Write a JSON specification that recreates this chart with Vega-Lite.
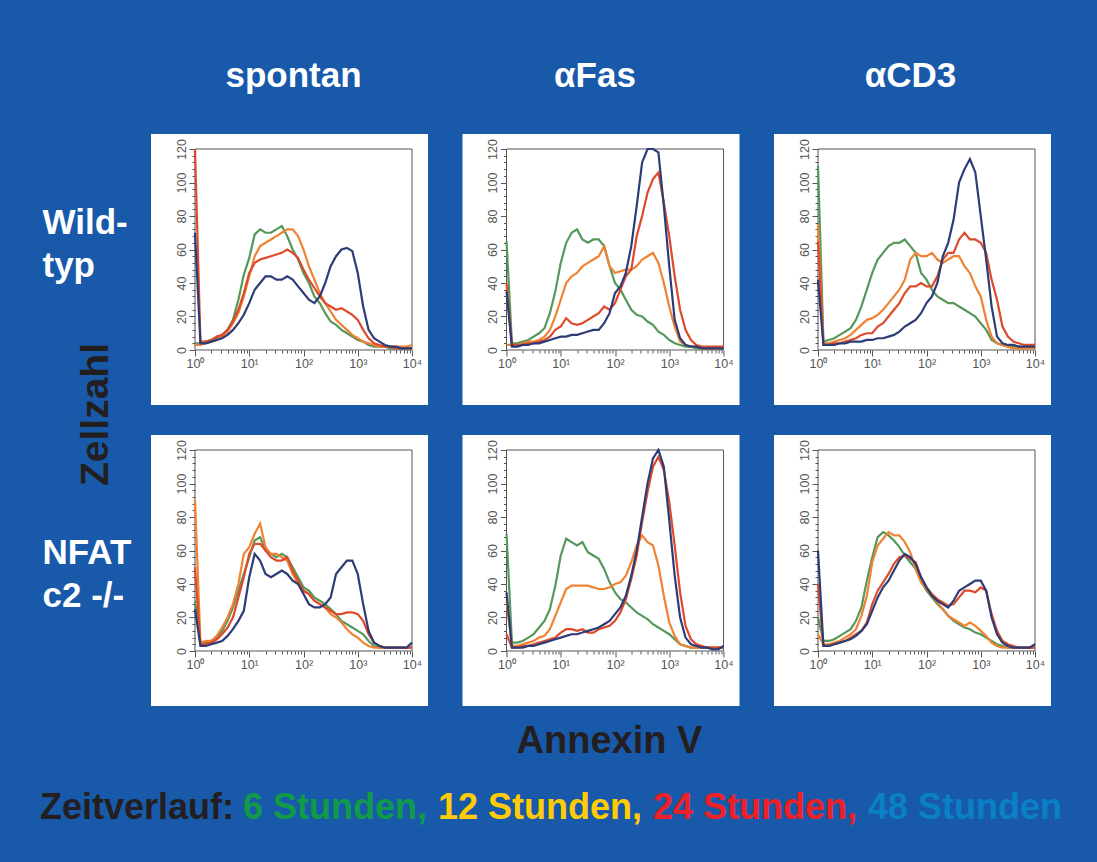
{
"$schema":"https://vega.github.io/schema/vega-lite/v6.json",
"background":"#1859aa",
"padding":{"left":40,"top":59,"right":42,"bottom":40},
"bounds":"flush",
"columns":3,
"spacing":{"row":30,"column":34.5},
"config":{
 "font":"Liberation Sans",
 "view":{"fill":"white","stroke":null},
 "axis":{"domain":false,"grid":false,"labelFont":"Liberation Sans","labelFontSize":12.5,"labelColor":"#555555","tickColor":"#555555","tickWidth":1,"labelOverlap":false,"labelFlush":false,"labelBound":false,"titleFont":"Liberation Sans","titleFontWeight":"bold"},
 "title":{"font":"Liberation Sans","fontSize":35,"fontWeight":"bold","color":"white","anchor":"middle","frame":"group","offset":40}
},
"datasets":{"h":[
{"p":"A","x":1,"h6":4,"h12":3,"h24":120,"h48":70},{"p":"A","x":1.259,"h6":4,"h12":3,"h24":5,"h48":4},{"p":"A","x":1.585,"h6":5,"h12":4,"h24":5,"h48":4},{"p":"A","x":1.995,"h6":6,"h12":5,"h24":6,"h48":5},{"p":"A","x":2.512,"h6":7,"h12":6,"h24":8,"h48":6},{"p":"A","x":3.162,"h6":9,"h12":8,"h24":9,"h48":7},{"p":"A","x":3.981,"h6":12,"h12":11,"h24":12,"h48":9},{"p":"A","x":5.012,"h6":18,"h12":16,"h24":17,"h48":12},{"p":"A","x":6.31,"h6":30,"h12":22,"h24":24,"h48":16},{"p":"A","x":7.943,"h6":45,"h12":32,"h24":34,"h48":21},
{"p":"A","x":10,"h6":55,"h12":44,"h24":46,"h48":28},{"p":"A","x":12.59,"h6":69,"h12":56,"h24":52,"h48":36},{"p":"A","x":15.85,"h6":72,"h12":62,"h24":54,"h48":40},{"p":"A","x":19.95,"h6":70,"h12":64,"h24":55,"h48":44},{"p":"A","x":25.12,"h6":70,"h12":66,"h24":56,"h48":44},{"p":"A","x":31.62,"h6":72,"h12":68,"h24":57,"h48":42},{"p":"A","x":39.81,"h6":74,"h12":70,"h24":58,"h48":42},{"p":"A","x":50.12,"h6":68,"h12":72,"h24":60,"h48":44},{"p":"A","x":63.1,"h6":60,"h12":72,"h24":58,"h48":42},{"p":"A","x":79.43,"h6":54,"h12":68,"h24":55,"h48":38},
{"p":"A","x":100,"h6":46,"h12":60,"h24":48,"h48":34},{"p":"A","x":125.9,"h6":40,"h12":50,"h24":42,"h48":30},{"p":"A","x":158.5,"h6":32,"h12":42,"h24":37,"h48":28},{"p":"A","x":199.5,"h6":28,"h12":34,"h24":32,"h48":32},{"p":"A","x":251.2,"h6":22,"h12":28,"h24":28,"h48":40},{"p":"A","x":316.2,"h6":17,"h12":23,"h24":26,"h48":50},{"p":"A","x":398.1,"h6":15,"h12":18,"h24":24,"h48":56},{"p":"A","x":501.2,"h6":12,"h12":15,"h24":25,"h48":60},{"p":"A","x":631,"h6":10,"h12":12,"h24":23,"h48":61},{"p":"A","x":794.3,"h6":8,"h12":9,"h24":21,"h48":59},
{"p":"A","x":1000,"h6":6,"h12":7,"h24":18,"h48":46},{"p":"A","x":1259,"h6":5,"h12":5,"h24":12,"h48":26},{"p":"A","x":1585,"h6":3,"h12":4,"h24":7,"h48":12},{"p":"A","x":1995,"h6":2,"h12":3,"h24":4,"h48":7},{"p":"A","x":2512,"h6":2,"h12":2,"h24":3,"h48":5},{"p":"A","x":3162,"h6":2,"h12":2,"h24":2,"h48":3},{"p":"A","x":3981,"h6":1,"h12":2,"h24":2,"h48":2},{"p":"A","x":5012,"h6":1,"h12":2,"h24":1,"h48":2},{"p":"A","x":6310,"h6":1,"h12":2,"h24":1,"h48":1},{"p":"A","x":7943,"h6":1,"h12":2,"h24":1,"h48":1},{"p":"A","x":10000,"h6":1,"h12":3,"h24":1,"h48":1},
{"p":"B","x":1,"h6":65,"h12":3,"h24":40,"h48":35},{"p":"B","x":1.259,"h6":4,"h12":3,"h24":3,"h48":2},{"p":"B","x":1.585,"h6":4,"h12":3,"h24":3,"h48":2},{"p":"B","x":1.995,"h6":5,"h12":4,"h24":3,"h48":3},{"p":"B","x":2.512,"h6":6,"h12":5,"h24":4,"h48":3},{"p":"B","x":3.162,"h6":8,"h12":5,"h24":4,"h48":4},{"p":"B","x":3.981,"h6":10,"h12":6,"h24":5,"h48":4},{"p":"B","x":5.012,"h6":13,"h12":8,"h24":6,"h48":5},{"p":"B","x":6.31,"h6":22,"h12":12,"h24":8,"h48":6},{"p":"B","x":7.943,"h6":35,"h12":20,"h24":12,"h48":7},
{"p":"B","x":10,"h6":52,"h12":30,"h24":14,"h48":8},{"p":"B","x":12.59,"h6":64,"h12":40,"h24":19,"h48":8},{"p":"B","x":15.85,"h6":70,"h12":44,"h24":16,"h48":9},{"p":"B","x":19.95,"h6":72,"h12":46,"h24":15,"h48":9},{"p":"B","x":25.12,"h6":66,"h12":50,"h24":16,"h48":10},{"p":"B","x":31.62,"h6":64,"h12":52,"h24":18,"h48":11},{"p":"B","x":39.81,"h6":66,"h12":54,"h24":20,"h48":12},{"p":"B","x":50.12,"h6":66,"h12":56,"h24":22,"h48":12},{"p":"B","x":63.1,"h6":62,"h12":62,"h24":26,"h48":16},{"p":"B","x":79.43,"h6":50,"h12":50,"h24":24,"h48":22},
{"p":"B","x":100,"h6":40,"h12":46,"h24":28,"h48":34},{"p":"B","x":125.9,"h6":36,"h12":47,"h24":36,"h48":38},{"p":"B","x":158.5,"h6":30,"h12":48,"h24":44,"h48":46},{"p":"B","x":199.5,"h6":24,"h12":48,"h24":48,"h48":62},{"p":"B","x":251.2,"h6":21,"h12":50,"h24":68,"h48":86},{"p":"B","x":316.2,"h6":20,"h12":54,"h24":80,"h48":112},{"p":"B","x":398.1,"h6":17,"h12":56,"h24":94,"h48":120},{"p":"B","x":501.2,"h6":15,"h12":58,"h24":102,"h48":120},{"p":"B","x":631,"h6":11,"h12":52,"h24":106,"h48":118},{"p":"B","x":794.3,"h6":9,"h12":40,"h24":88,"h48":86},
{"p":"B","x":1000,"h6":6,"h12":26,"h24":68,"h48":50},{"p":"B","x":1259,"h6":4,"h12":14,"h24":44,"h48":18},{"p":"B","x":1585,"h6":3,"h12":5,"h24":24,"h48":7},{"p":"B","x":1995,"h6":2,"h12":3,"h24":12,"h48":3},{"p":"B","x":2512,"h6":2,"h12":2,"h24":6,"h48":2},{"p":"B","x":3162,"h6":1,"h12":2,"h24":3,"h48":2},{"p":"B","x":3981,"h6":1,"h12":1,"h24":2,"h48":1},{"p":"B","x":5012,"h6":1,"h12":1,"h24":2,"h48":1},{"p":"B","x":6310,"h6":1,"h12":1,"h24":2,"h48":1},{"p":"B","x":7943,"h6":1,"h12":1,"h24":2,"h48":1},{"p":"B","x":10000,"h6":1,"h12":2,"h24":2,"h48":1},
{"p":"C","x":1,"h6":110,"h12":75,"h24":65,"h48":42},{"p":"C","x":1.259,"h6":5,"h12":4,"h24":3,"h48":3},{"p":"C","x":1.585,"h6":6,"h12":4,"h24":3,"h48":3},{"p":"C","x":1.995,"h6":7,"h12":5,"h24":4,"h48":3},{"p":"C","x":2.512,"h6":9,"h12":6,"h24":4,"h48":4},{"p":"C","x":3.162,"h6":11,"h12":7,"h24":5,"h48":4},{"p":"C","x":3.981,"h6":13,"h12":9,"h24":6,"h48":5},{"p":"C","x":5.012,"h6":18,"h12":12,"h24":7,"h48":5},{"p":"C","x":6.31,"h6":26,"h12":15,"h24":9,"h48":5},{"p":"C","x":7.943,"h6":36,"h12":18,"h24":10,"h48":6},
{"p":"C","x":10,"h6":46,"h12":19,"h24":10,"h48":6},{"p":"C","x":12.59,"h6":54,"h12":21,"h24":14,"h48":7},{"p":"C","x":15.85,"h6":58,"h12":24,"h24":16,"h48":7},{"p":"C","x":19.95,"h6":62,"h12":28,"h24":20,"h48":8},{"p":"C","x":25.12,"h6":64,"h12":32,"h24":24,"h48":9},{"p":"C","x":31.62,"h6":64,"h12":36,"h24":28,"h48":11},{"p":"C","x":39.81,"h6":66,"h12":42,"h24":34,"h48":14},{"p":"C","x":50.12,"h6":62,"h12":54,"h24":38,"h48":16},{"p":"C","x":63.1,"h6":58,"h12":58,"h24":38,"h48":18},{"p":"C","x":79.43,"h6":46,"h12":56,"h24":40,"h48":22},
{"p":"C","x":100,"h6":42,"h12":56,"h24":38,"h48":28},{"p":"C","x":125.9,"h6":36,"h12":58,"h24":38,"h48":32},{"p":"C","x":158.5,"h6":32,"h12":54,"h24":44,"h48":40},{"p":"C","x":199.5,"h6":30,"h12":52,"h24":54,"h48":56},{"p":"C","x":251.2,"h6":28,"h12":54,"h24":58,"h48":64},{"p":"C","x":316.2,"h6":28,"h12":56,"h24":58,"h48":78},{"p":"C","x":398.1,"h6":26,"h12":56,"h24":66,"h48":100},{"p":"C","x":501.2,"h6":24,"h12":50,"h24":70,"h48":108},{"p":"C","x":631,"h6":22,"h12":46,"h24":66,"h48":114},{"p":"C","x":794.3,"h6":20,"h12":38,"h24":66,"h48":106},
{"p":"C","x":1000,"h6":16,"h12":32,"h24":64,"h48":80},{"p":"C","x":1259,"h6":12,"h12":18,"h24":58,"h48":54},{"p":"C","x":1585,"h6":6,"h12":8,"h24":42,"h48":26},{"p":"C","x":1995,"h6":4,"h12":4,"h24":30,"h48":8},{"p":"C","x":2512,"h6":3,"h12":3,"h24":14,"h48":4},{"p":"C","x":3162,"h6":2,"h12":2,"h24":8,"h48":3},{"p":"C","x":3981,"h6":2,"h12":1,"h24":5,"h48":3},{"p":"C","x":5012,"h6":2,"h12":1,"h24":4,"h48":2},{"p":"C","x":6310,"h6":2,"h12":1,"h24":3,"h48":2},{"p":"C","x":7943,"h6":2,"h12":1,"h24":3,"h48":2},{"p":"C","x":10000,"h6":2,"h12":1,"h24":3,"h48":2},
{"p":"D","x":1,"h6":30,"h12":90,"h24":50,"h48":25},{"p":"D","x":1.259,"h6":5,"h12":5,"h24":4,"h48":3},{"p":"D","x":1.585,"h6":5,"h12":6,"h24":4,"h48":3},{"p":"D","x":1.995,"h6":6,"h12":6,"h24":5,"h48":4},{"p":"D","x":2.512,"h6":8,"h12":9,"h24":7,"h48":5},{"p":"D","x":3.162,"h6":12,"h12":14,"h24":10,"h48":6},{"p":"D","x":3.981,"h6":18,"h12":20,"h24":14,"h48":9},{"p":"D","x":5.012,"h6":26,"h12":28,"h24":20,"h48":13},{"p":"D","x":6.31,"h6":36,"h12":40,"h24":32,"h48":18},{"p":"D","x":7.943,"h6":46,"h12":58,"h24":44,"h48":24},
{"p":"D","x":10,"h6":56,"h12":62,"h24":58,"h48":44},{"p":"D","x":12.59,"h6":66,"h12":70,"h24":64,"h48":58},{"p":"D","x":15.85,"h6":68,"h12":76,"h24":64,"h48":54},{"p":"D","x":19.95,"h6":60,"h12":62,"h24":60,"h48":46},{"p":"D","x":25.12,"h6":58,"h12":58,"h24":56,"h48":44},{"p":"D","x":31.62,"h6":56,"h12":58,"h24":54,"h48":46},{"p":"D","x":39.81,"h6":58,"h12":56,"h24":54,"h48":48},{"p":"D","x":50.12,"h6":56,"h12":54,"h24":56,"h48":46},{"p":"D","x":63.1,"h6":50,"h12":46,"h24":48,"h48":42},{"p":"D","x":79.43,"h6":44,"h12":40,"h24":42,"h48":40},
{"p":"D","x":100,"h6":38,"h12":36,"h24":36,"h48":34},{"p":"D","x":125.9,"h6":36,"h12":34,"h24":34,"h48":28},{"p":"D","x":158.5,"h6":32,"h12":30,"h24":30,"h48":26},{"p":"D","x":199.5,"h6":30,"h12":28,"h24":28,"h48":26},{"p":"D","x":251.2,"h6":28,"h12":26,"h24":26,"h48":28},{"p":"D","x":316.2,"h6":25,"h12":22,"h24":24,"h48":32},{"p":"D","x":398.1,"h6":22,"h12":20,"h24":22,"h48":46},{"p":"D","x":501.2,"h6":18,"h12":17,"h24":22,"h48":50},{"p":"D","x":631,"h6":16,"h12":13,"h24":23,"h48":54},{"p":"D","x":794.3,"h6":14,"h12":10,"h24":23,"h48":54},
{"p":"D","x":1000,"h6":12,"h12":8,"h24":22,"h48":46},{"p":"D","x":1259,"h6":10,"h12":5,"h24":18,"h48":28},{"p":"D","x":1585,"h6":6,"h12":3,"h24":10,"h48":12},{"p":"D","x":1995,"h6":3,"h12":2,"h24":5,"h48":5},{"p":"D","x":2512,"h6":2,"h12":2,"h24":3,"h48":3},{"p":"D","x":3162,"h6":2,"h12":2,"h24":2,"h48":2},{"p":"D","x":3981,"h6":2,"h12":2,"h24":2,"h48":2},{"p":"D","x":5012,"h6":2,"h12":2,"h24":2,"h48":2},{"p":"D","x":6310,"h6":2,"h12":2,"h24":2,"h48":2},{"p":"D","x":7943,"h6":2,"h12":2,"h24":2,"h48":2},{"p":"D","x":10000,"h6":2,"h12":2,"h24":2,"h48":5},
{"p":"E","x":1,"h6":70,"h12":30,"h24":10,"h48":35},{"p":"E","x":1.259,"h6":5,"h12":3,"h24":2,"h48":2},{"p":"E","x":1.585,"h6":5,"h12":3,"h24":2,"h48":2},{"p":"E","x":1.995,"h6":6,"h12":4,"h24":3,"h48":2},{"p":"E","x":2.512,"h6":8,"h12":5,"h24":3,"h48":3},{"p":"E","x":3.162,"h6":10,"h12":6,"h24":4,"h48":3},{"p":"E","x":3.981,"h6":14,"h12":8,"h24":5,"h48":4},{"p":"E","x":5.012,"h6":18,"h12":9,"h24":6,"h48":5},{"p":"E","x":6.31,"h6":25,"h12":13,"h24":7,"h48":6},{"p":"E","x":7.943,"h6":39,"h12":21,"h24":8,"h48":7},
{"p":"E","x":10,"h6":57,"h12":29,"h24":11,"h48":8},{"p":"E","x":12.59,"h6":67,"h12":37,"h24":13,"h48":9},{"p":"E","x":15.85,"h6":65,"h12":39,"h24":13,"h48":10},{"p":"E","x":19.95,"h6":63,"h12":39,"h24":12,"h48":10},{"p":"E","x":25.12,"h6":65,"h12":39,"h24":13,"h48":11},{"p":"E","x":31.62,"h6":59,"h12":39,"h24":11,"h48":12},{"p":"E","x":39.81,"h6":57,"h12":38,"h24":11,"h48":13},{"p":"E","x":50.12,"h6":55,"h12":37,"h24":13,"h48":14},{"p":"E","x":63.1,"h6":49,"h12":37,"h24":14,"h48":16},{"p":"E","x":79.43,"h6":41,"h12":38,"h24":15,"h48":18},
{"p":"E","x":100,"h6":35,"h12":40,"h24":18,"h48":22},{"p":"E","x":125.9,"h6":31,"h12":41,"h24":23,"h48":26},{"p":"E","x":158.5,"h6":29,"h12":45,"h24":31,"h48":33},{"p":"E","x":199.5,"h6":26,"h12":53,"h24":43,"h48":45},{"p":"E","x":251.2,"h6":23,"h12":63,"h24":57,"h48":60},{"p":"E","x":316.2,"h6":21,"h12":69,"h24":77,"h48":80},{"p":"E","x":398.1,"h6":19,"h12":65,"h24":95,"h48":100},{"p":"E","x":501.2,"h6":16,"h12":63,"h24":110,"h48":115},{"p":"E","x":631,"h6":14,"h12":51,"h24":116,"h48":120},{"p":"E","x":794.3,"h6":12,"h12":33,"h24":108,"h48":110},
{"p":"E","x":1000,"h6":10,"h12":17,"h24":89,"h48":78},{"p":"E","x":1259,"h6":7,"h12":9,"h24":63,"h48":45},{"p":"E","x":1585,"h6":4,"h12":4,"h24":35,"h48":20},{"p":"E","x":1995,"h6":3,"h12":3,"h24":15,"h48":8},{"p":"E","x":2512,"h6":2,"h12":2,"h24":7,"h48":4},{"p":"E","x":3162,"h6":2,"h12":2,"h24":4,"h48":3},{"p":"E","x":3981,"h6":2,"h12":2,"h24":3,"h48":2},{"p":"E","x":5012,"h6":2,"h12":2,"h24":2,"h48":2},{"p":"E","x":6310,"h6":2,"h12":2,"h24":2,"h48":1},{"p":"E","x":7943,"h6":2,"h12":2,"h24":2,"h48":1},{"p":"E","x":10000,"h6":2,"h12":2,"h24":2,"h48":3},
{"p":"F","x":1,"h6":20,"h12":10,"h24":40,"h48":60},{"p":"F","x":1.259,"h6":6,"h12":4,"h24":3,"h48":3},{"p":"F","x":1.585,"h6":6,"h12":4,"h24":3,"h48":3},{"p":"F","x":1.995,"h6":7,"h12":5,"h24":4,"h48":4},{"p":"F","x":2.512,"h6":9,"h12":6,"h24":5,"h48":5},{"p":"F","x":3.162,"h6":11,"h12":8,"h24":6,"h48":6},{"p":"F","x":3.981,"h6":13,"h12":10,"h24":8,"h48":7},{"p":"F","x":5.012,"h6":18,"h12":13,"h24":10,"h48":9},{"p":"F","x":6.31,"h6":26,"h12":21,"h24":12,"h48":12},{"p":"F","x":7.943,"h6":42,"h12":33,"h24":17,"h48":16},
{"p":"F","x":10,"h6":56,"h12":53,"h24":28,"h48":24},{"p":"F","x":12.59,"h6":68,"h12":63,"h24":36,"h48":32},{"p":"F","x":15.85,"h6":71,"h12":67,"h24":41,"h48":38},{"p":"F","x":19.95,"h6":69,"h12":71,"h24":46,"h48":42},{"p":"F","x":25.12,"h6":66,"h12":69,"h24":52,"h48":48},{"p":"F","x":31.62,"h6":62,"h12":69,"h24":56,"h48":54},{"p":"F","x":39.81,"h6":57,"h12":65,"h24":57,"h48":58},{"p":"F","x":50.12,"h6":53,"h12":59,"h24":55,"h48":56},{"p":"F","x":63.1,"h6":49,"h12":49,"h24":53,"h48":52},{"p":"F","x":79.43,"h6":42,"h12":41,"h24":44,"h48":44},
{"p":"F","x":100,"h6":36,"h12":37,"h24":38,"h48":38},{"p":"F","x":125.9,"h6":32,"h12":33,"h24":34,"h48":33},{"p":"F","x":158.5,"h6":28,"h12":29,"h24":31,"h48":30},{"p":"F","x":199.5,"h6":25,"h12":25,"h24":29,"h48":28},{"p":"F","x":251.2,"h6":21,"h12":21,"h24":27,"h48":26},{"p":"F","x":316.2,"h6":18,"h12":19,"h24":28,"h48":30},{"p":"F","x":398.1,"h6":16,"h12":17,"h24":32,"h48":36},{"p":"F","x":501.2,"h6":14,"h12":15,"h24":36,"h48":38},{"p":"F","x":631,"h6":13,"h12":17,"h24":36,"h48":40},{"p":"F","x":794.3,"h6":11,"h12":15,"h24":35,"h48":42},
{"p":"F","x":1000,"h6":10,"h12":12,"h24":38,"h48":42},{"p":"F","x":1259,"h6":8,"h12":9,"h24":36,"h48":36},{"p":"F","x":1585,"h6":6,"h12":5,"h24":22,"h48":20},{"p":"F","x":1995,"h6":4,"h12":3,"h24":12,"h48":10},{"p":"F","x":2512,"h6":3,"h12":2,"h24":6,"h48":5},{"p":"F","x":3162,"h6":2,"h12":2,"h24":4,"h48":3},{"p":"F","x":3981,"h6":2,"h12":2,"h24":3,"h48":2},{"p":"F","x":5012,"h6":2,"h12":2,"h24":2,"h48":2},{"p":"F","x":6310,"h6":2,"h12":2,"h24":2,"h48":2},{"p":"F","x":7943,"h6":2,"h12":2,"h24":2,"h48":2},{"p":"F","x":10000,"h6":2,"h12":2,"h24":2,"h48":4}
]},
"concat":[
 {"width":277,"height":271,"title":{"text":"spontan","dx":4},
  "layer":[
   {"data":{"values":[{}]},"mark":{"type":"rect","filled":false,"stroke":"#555555","strokeWidth":1},"encoding":{"x":{"datum":1,"type":"quantitative"},"x2":{"datum":10000},"y":{"datum":0,"type":"quantitative"},"y2":{"datum":120}}},
   {"data":{"name":"h"},"transform":[{"filter":"datum.p=='A'"},{"fold":["h6","h12","h24","h48"],"as":["t","y"]}],
    "mark":{"type":"line","strokeWidth":2.2},
    "encoding":{
     "x":{"field":"x","type":"quantitative","scale":{"type":"log","domain":[0.1545,19717],"nice":false},
      "axis":{"orient":"bottom","offset":-55,"tickCount":200,"values":[1,2,3,4,5,6,7,8,9,10,20,30,40,50,60,70,80,90,100,200,300,400,500,600,700,800,900,1000,2000,3000,4000,5000,6000,7000,8000,9000,10000],"labelExpr":"datum.value==1?'10⁰':datum.value==10?'10¹':datum.value==100?'10²':datum.value==1000?'10³':datum.value==10000?'10⁴':''","tickSize":{"condition":{"test":"indexof([1,10,100,1000,10000],datum.value)>=0","value":6},"value":3},"labelPadding":1,
       "title":"Zellzahl","titleX":-56,"titleY":64,"titleAngle":270,"titleAlign":"center","titleBaseline":"middle","titleFontSize":39,"titleColor":"#231f20"}},
     "y":{"field":"y","type":"quantitative","scale":{"domain":[-32.84,128.96],"nice":false,"zero":false},
      "axis":{"orient":"left","offset":-44,"tickCount":200,"values":[0,4,8,12,16,20,24,28,32,36,40,44,48,52,56,60,64,68,72,76,80,84,88,92,96,100,104,108,112,116,120],"labelExpr":"datum.value%20==0?datum.label:''","labelAngle":270,"labelAlign":"center","labelBaseline":"bottom","labelPadding":1,"tickSize":{"condition":{"test":"datum.value%20==0","value":6},"value":3},
       "title":["Wild-","typ"],"titleX":-153,"titleY":99,"titleAngle":0,"titleAlign":"left","titleBaseline":"alphabetic","titleFontSize":35,"titleColor":"white","titleLineHeight":43}},
     "color":{"field":"t","type":"nominal","scale":{"domain":["h6","h12","h24","h48"],"range":["#55985a","#ef8233","#dd4a2c","#2d3c76"]},
      "legend":{"orient":"none","legendX":-111,"legendY":656,"direction":"horizontal","columns":4,"padding":0,
       "title":"Zeitverlauf:","titleOrient":"left","titleFont":"Liberation Sans","titleFontSize":36,"titleFontWeight":"bold","titleColor":"#231f20","titlePadding":10,"titleLimit":400,
       "labelFont":"Liberation Sans","labelFontSize":36,"labelFontWeight":"bold","labelLimit":400,"labelOffset":-38,
       "labelExpr":"datum.value=='h6'?'6 Stunden,':datum.value=='h12'?'12 Stunden,':datum.value=='h24'?'24 Stunden,':'48 Stunden'",
       "labelColor":{"expr":"datum.value=='h6'?'#119a48':datum.value=='h12'?'#ffcc05':datum.value=='h24'?'#ee1f26':'#0a80c6'"},
       "symbolSize":0,"symbolOpacity":0,"symbolStrokeWidth":0,"columnPadding":10}}
    }}
  ]},
 {"width":277,"height":271,"title":{"text":"αFas","dx":-6},
  "layer":[
   {"data":{"values":[{}]},"mark":{"type":"rect","filled":false,"stroke":"#555555","strokeWidth":1},"encoding":{"x":{"datum":1,"type":"quantitative"},"x2":{"datum":10000},"y":{"datum":0,"type":"quantitative"},"y2":{"datum":120}}},
   {"data":{"name":"h"},"transform":[{"filter":"datum.p=='B'"},{"fold":["h6","h12","h24","h48"],"as":["t","y"]}],
    "mark":{"type":"line","strokeWidth":2.2},
    "encoding":{
     "x":{"field":"x","type":"quantitative","scale":{"type":"log","domain":[0.1545,19717],"nice":false},
      "axis":{"orient":"bottom","offset":-55,"tickCount":200,"values":[1,2,3,4,5,6,7,8,9,10,20,30,40,50,60,70,80,90,100,200,300,400,500,600,700,800,900,1000,2000,3000,4000,5000,6000,7000,8000,9000,10000],"labelExpr":"datum.value==1?'10⁰':datum.value==10?'10¹':datum.value==100?'10²':datum.value==1000?'10³':datum.value==10000?'10⁴':''","tickSize":{"condition":{"test":"indexof([1,10,100,1000,10000],datum.value)>=0","value":6},"value":3},"labelPadding":1,"title":null}},
     "y":{"field":"y","type":"quantitative","scale":{"domain":[-32.84,128.96],"nice":false,"zero":false},
      "axis":{"orient":"left","offset":-44,"tickCount":200,"values":[0,4,8,12,16,20,24,28,32,36,40,44,48,52,56,60,64,68,72,76,80,84,88,92,96,100,104,108,112,116,120],"labelExpr":"datum.value%20==0?datum.label:''","labelAngle":270,"labelAlign":"center","labelBaseline":"bottom","labelPadding":1,"tickSize":{"condition":{"test":"datum.value%20==0","value":6},"value":3},"title":null}},
     "color":{"field":"t","type":"nominal","scale":{"domain":["h6","h12","h24","h48"],"range":["#55985a","#ef8233","#dd4a2c","#2d3c76"]}}
    }}
  ]},
 {"width":277,"height":271,"title":{"text":"αCD3","dx":-2},
  "layer":[
   {"data":{"values":[{}]},"mark":{"type":"rect","filled":false,"stroke":"#555555","strokeWidth":1},"encoding":{"x":{"datum":1,"type":"quantitative"},"x2":{"datum":10000},"y":{"datum":0,"type":"quantitative"},"y2":{"datum":120}}},
   {"data":{"name":"h"},"transform":[{"filter":"datum.p=='C'"},{"fold":["h6","h12","h24","h48"],"as":["t","y"]}],
    "mark":{"type":"line","strokeWidth":2.2},
    "encoding":{
     "x":{"field":"x","type":"quantitative","scale":{"type":"log","domain":[0.1545,19717],"nice":false},
      "axis":{"orient":"bottom","offset":-55,"tickCount":200,"values":[1,2,3,4,5,6,7,8,9,10,20,30,40,50,60,70,80,90,100,200,300,400,500,600,700,800,900,1000,2000,3000,4000,5000,6000,7000,8000,9000,10000],"labelExpr":"datum.value==1?'10⁰':datum.value==10?'10¹':datum.value==100?'10²':datum.value==1000?'10³':datum.value==10000?'10⁴':''","tickSize":{"condition":{"test":"indexof([1,10,100,1000,10000],datum.value)>=0","value":6},"value":3},"labelPadding":1,"title":null}},
     "y":{"field":"y","type":"quantitative","scale":{"domain":[-32.84,128.96],"nice":false,"zero":false},
      "axis":{"orient":"left","offset":-44,"tickCount":200,"values":[0,4,8,12,16,20,24,28,32,36,40,44,48,52,56,60,64,68,72,76,80,84,88,92,96,100,104,108,112,116,120],"labelExpr":"datum.value%20==0?datum.label:''","labelAngle":270,"labelAlign":"center","labelBaseline":"bottom","labelPadding":1,"tickSize":{"condition":{"test":"datum.value%20==0","value":6},"value":3},"title":null}},
     "color":{"field":"t","type":"nominal","scale":{"domain":["h6","h12","h24","h48"],"range":["#55985a","#ef8233","#dd4a2c","#2d3c76"]}}
    }}
  ]},
 {"width":277,"height":271,
  "layer":[
   {"data":{"values":[{}]},"mark":{"type":"rect","filled":false,"stroke":"#555555","strokeWidth":1},"encoding":{"x":{"datum":1,"type":"quantitative"},"x2":{"datum":10000},"y":{"datum":0,"type":"quantitative"},"y2":{"datum":120}}},
   {"data":{"name":"h"},"transform":[{"filter":"datum.p=='D'"},{"fold":["h6","h12","h24","h48"],"as":["t","y"]}],
    "mark":{"type":"line","strokeWidth":2.2},
    "encoding":{
     "x":{"field":"x","type":"quantitative","scale":{"type":"log","domain":[0.1545,19717],"nice":false},
      "axis":{"orient":"bottom","offset":-55,"tickCount":200,"values":[1,2,3,4,5,6,7,8,9,10,20,30,40,50,60,70,80,90,100,200,300,400,500,600,700,800,900,1000,2000,3000,4000,5000,6000,7000,8000,9000,10000],"labelExpr":"datum.value==1?'10⁰':datum.value==10?'10¹':datum.value==100?'10²':datum.value==1000?'10³':datum.value==10000?'10⁴':''","tickSize":{"condition":{"test":"indexof([1,10,100,1000,10000],datum.value)>=0","value":6},"value":3},"labelPadding":1,"title":null}},
     "y":{"field":"y","type":"quantitative","scale":{"domain":[-32.84,128.96],"nice":false,"zero":false},
      "axis":{"orient":"left","offset":-44,"tickCount":200,"values":[0,4,8,12,16,20,24,28,32,36,40,44,48,52,56,60,64,68,72,76,80,84,88,92,96,100,104,108,112,116,120],"labelExpr":"datum.value%20==0?datum.label:''","labelAngle":270,"labelAlign":"center","labelBaseline":"bottom","labelPadding":1,"tickSize":{"condition":{"test":"datum.value%20==0","value":6},"value":3},
       "title":["NFAT","c2 -/-"],"titleX":-153,"titleY":128,"titleAngle":0,"titleAlign":"left","titleBaseline":"alphabetic","titleFontSize":35,"titleColor":"white","titleLineHeight":43}},
     "color":{"field":"t","type":"nominal","scale":{"domain":["h6","h12","h24","h48"],"range":["#55985a","#ef8233","#dd4a2c","#2d3c76"]}}
    }}
  ]},
 {"width":277,"height":271,
  "layer":[
   {"data":{"values":[{}]},"mark":{"type":"rect","filled":false,"stroke":"#555555","strokeWidth":1},"encoding":{"x":{"datum":1,"type":"quantitative"},"x2":{"datum":10000},"y":{"datum":0,"type":"quantitative"},"y2":{"datum":120}}},
   {"data":{"name":"h"},"transform":[{"filter":"datum.p=='E'"},{"fold":["h6","h12","h24","h48"],"as":["t","y"]}],
    "mark":{"type":"line","strokeWidth":2.2},
    "encoding":{
     "x":{"field":"x","type":"quantitative","scale":{"type":"log","domain":[0.1545,19717],"nice":false},
      "axis":{"orient":"bottom","offset":-55,"tickCount":200,"values":[1,2,3,4,5,6,7,8,9,10,20,30,40,50,60,70,80,90,100,200,300,400,500,600,700,800,900,1000,2000,3000,4000,5000,6000,7000,8000,9000,10000],"labelExpr":"datum.value==1?'10⁰':datum.value==10?'10¹':datum.value==100?'10²':datum.value==1000?'10³':datum.value==10000?'10⁴':''","tickSize":{"condition":{"test":"indexof([1,10,100,1000,10000],datum.value)>=0","value":6},"value":3},"labelPadding":1,
       "title":"Annexin V","titleX":146.5,"titleY":101,"titleAngle":0,"titleAlign":"center","titleBaseline":"alphabetic","titleFontSize":38,"titleColor":"#231f20"}},
     "y":{"field":"y","type":"quantitative","scale":{"domain":[-32.84,128.96],"nice":false,"zero":false},
      "axis":{"orient":"left","offset":-44,"tickCount":200,"values":[0,4,8,12,16,20,24,28,32,36,40,44,48,52,56,60,64,68,72,76,80,84,88,92,96,100,104,108,112,116,120],"labelExpr":"datum.value%20==0?datum.label:''","labelAngle":270,"labelAlign":"center","labelBaseline":"bottom","labelPadding":1,"tickSize":{"condition":{"test":"datum.value%20==0","value":6},"value":3},"title":null}},
     "color":{"field":"t","type":"nominal","scale":{"domain":["h6","h12","h24","h48"],"range":["#55985a","#ef8233","#dd4a2c","#2d3c76"]}}
    }}
  ]},
 {"width":277,"height":271,
  "layer":[
   {"data":{"values":[{}]},"mark":{"type":"rect","filled":false,"stroke":"#555555","strokeWidth":1},"encoding":{"x":{"datum":1,"type":"quantitative"},"x2":{"datum":10000},"y":{"datum":0,"type":"quantitative"},"y2":{"datum":120}}},
   {"data":{"name":"h"},"transform":[{"filter":"datum.p=='F'"},{"fold":["h6","h12","h24","h48"],"as":["t","y"]}],
    "mark":{"type":"line","strokeWidth":2.2},
    "encoding":{
     "x":{"field":"x","type":"quantitative","scale":{"type":"log","domain":[0.1545,19717],"nice":false},
      "axis":{"orient":"bottom","offset":-55,"tickCount":200,"values":[1,2,3,4,5,6,7,8,9,10,20,30,40,50,60,70,80,90,100,200,300,400,500,600,700,800,900,1000,2000,3000,4000,5000,6000,7000,8000,9000,10000],"labelExpr":"datum.value==1?'10⁰':datum.value==10?'10¹':datum.value==100?'10²':datum.value==1000?'10³':datum.value==10000?'10⁴':''","tickSize":{"condition":{"test":"indexof([1,10,100,1000,10000],datum.value)>=0","value":6},"value":3},"labelPadding":1,"title":null}},
     "y":{"field":"y","type":"quantitative","scale":{"domain":[-32.84,128.96],"nice":false,"zero":false},
      "axis":{"orient":"left","offset":-44,"tickCount":200,"values":[0,4,8,12,16,20,24,28,32,36,40,44,48,52,56,60,64,68,72,76,80,84,88,92,96,100,104,108,112,116,120],"labelExpr":"datum.value%20==0?datum.label:''","labelAngle":270,"labelAlign":"center","labelBaseline":"bottom","labelPadding":1,"tickSize":{"condition":{"test":"datum.value%20==0","value":6},"value":3},"title":null}},
     "color":{"field":"t","type":"nominal","scale":{"domain":["h6","h12","h24","h48"],"range":["#55985a","#ef8233","#dd4a2c","#2d3c76"]}}
    }}
  ]}
]
}
